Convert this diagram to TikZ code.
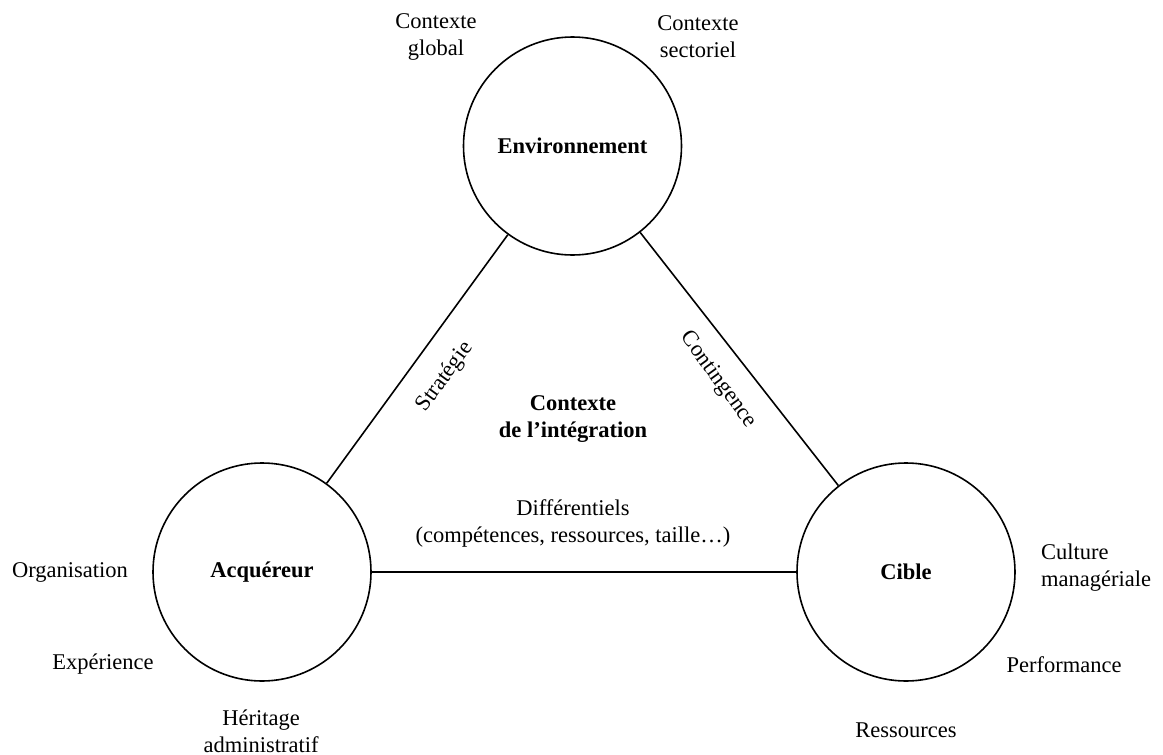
\documentclass[tikz,border=0pt]{standalone}
\usepackage{fontspec}
\setmainfont{Liberation Serif}
\begin{document}
\begin{tikzpicture}[x=1pt,y=-1pt,
  every node/.style={font=\fontsize{22.5}{27}\selectfont, inner sep=0pt},
  circ/.style={draw, circle, line width=1.6pt, minimum size=218pt, font=\fontsize{22.5}{27}\selectfont\bfseries},
  lbl/.style={align=center},
  link/.style={line width=1.6pt}]
\useasboundingbox (0,0) rectangle (1163,755);
\node[circ] (env) at (572.5,146) {Environnement};
\node[circ] (acq) at (262,572) {Acquéreur};
\node[circ] (cib) at (906,572) {Cible};
\draw[link] (env) -- (acq);
\draw[link] (env) -- (cib);
\draw[link] (acq) -- (cib);
\node[lbl] (cg) at (436,37) {Contexte\\global};
\node[lbl] (cs) at (698,37) {Contexte\\sectoriel};
\node[lbl] (org) at (70,572) {Organisation};
\node[lbl] (exp) at (103,664) {Expérience};
\node[lbl] (her) at (261,731) {Héritage\\administratif};
\node[align=left, anchor=west] (cul) at (1041,568) {Culture\\managériale};
\node[lbl] (perf) at (1064,665) {Performance};
\node[lbl] (res) at (906,730) {Ressources};
\node[lbl, rotate=54] (str) at (445,377) {Stratégie};
\node[lbl, rotate=-54] (cont) at (718,380) {Contingence};
\node[lbl, font=\fontsize{22.5}{27}\selectfont\bfseries] (ctx) at (573,419) {Contexte\\de l’intégration};
\node[lbl] (diff) at (573,523) {Différentiels\\(compétences, ressources, taille…)};
\end{tikzpicture}
\end{document}
